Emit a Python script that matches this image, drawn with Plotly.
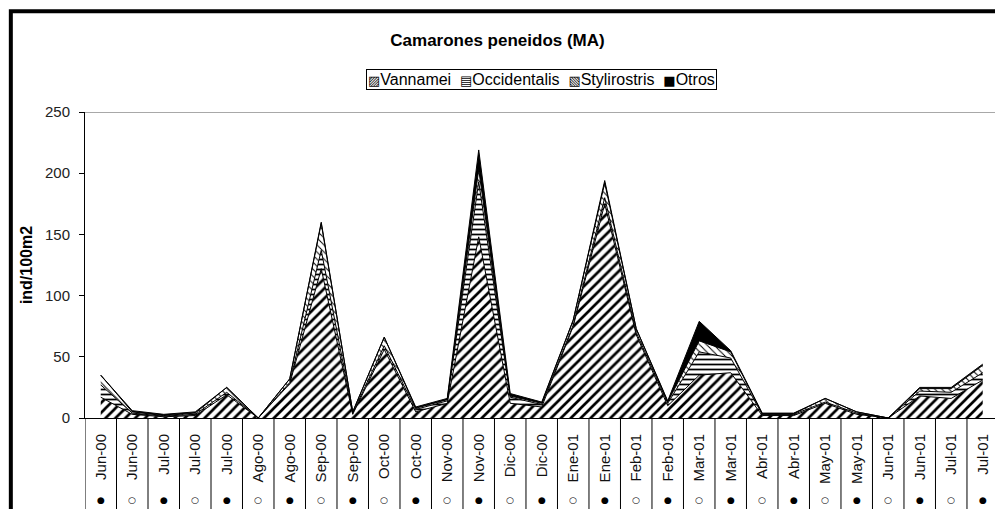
import plotly.graph_objects as go

labels = ["Jun-00", "Jun-00", "Jul-00", "Jul-00", "Jul-00", "Ago-00", "Ago-00", "Sep-00", "Sep-00",
          "Oct-00", "Oct-00", "Nov-00", "Nov-00", "Dic-00", "Dic-00", "Ene-01", "Ene-01", "Feb-01",
          "Feb-01", "Mar-01", "Mar-01", "Abr-01", "Abr-01", "May-01", "May-01", "Jun-01", "Jun-01",
          "Jul-01", "Jul-01"]
fase = ["●", "○"] * 14 + ["●"]

vannamei = [17, 3, 1, 2, 19, 0, 28, 122, 3, 56, 5, 12, 148, 12, 9, 75, 175, 68, 10, 35, 37, 2, 2, 12, 3, 0, 18, 16, 31]
occidentalis = [10, 1, 0.5, 1, 2, 0, 1, 15, 1, 3, 2, 2, 45, 5, 2, 1, 5, 2, 2, 19, 12, 1, 1, 1, 1, 0, 4, 5, 6]
stylirostris = [8, 1, 0.5, 1, 4, 0, 3, 22, 1, 7, 1, 1, 10, 1, 1, 4, 12, 3, 1, 9, 5, 0.5, 0.5, 3, 1, 0, 2, 3, 6]
otros = [0, 1, 1, 1, 0, 0, 0, 1, 0, 0, 1, 1, 16, 2, 1, 0, 2, 0, 1, 16, 1, 0.5, 0.5, 0, 0, 0, 1, 1, 1]

series_names = ["Vannamei", "Occidentalis", "Stylirostris", "Otros"]
legend_icons = ["▨", "▤", "▧", "■"]

x = list(range(len(labels)))
FONT = "Liberation Sans, Arial, sans-serif"

fig = go.Figure()
patterns = [
    dict(shape="/", size=7, solidity=0.38),
    dict(shape="-", size=5, solidity=0.35),
    dict(shape="\\", size=5, solidity=0.2),
]
for name, vals, pat in zip(series_names[:3], [vannamei, occidentalis, stylirostris], patterns):
    fig.add_trace(go.Scatter(
        x=x, y=vals, name=name, mode="lines", stackgroup="one",
        line=dict(color="black", width=1),
        fillcolor="white",
        fillpattern=dict(fgcolor="black", bgcolor="white", fillmode="replace", **pat),
    ))
fig.add_trace(go.Scatter(
    x=x, y=otros, name=series_names[3], mode="lines", stackgroup="one",
    line=dict(color="black", width=1), fillcolor="black",
))

shapes = []
# category separators forming the label table
for i in range(len(labels) + 1):
    shapes.append(dict(type="line", xref="x", yref="paper", x0=i - 0.5, x1=i - 0.5,
                       y0=0, y1=-0.45, line=dict(color="black", width=1)))
# plot-area top border
shapes.append(dict(type="line", xref="paper", yref="y", x0=0, x1=1, y0=250, y1=250,
                   line=dict(color="#a8a8a8", width=2)))
# outer chart frame
shapes.append(dict(type="rect", xref="paper", yref="paper", x0=-0.0815, x1=1.1,
                   y0=-0.5, y1=1.3295, line=dict(color="black", width=4)))

annotations = []
for i, f in enumerate(fase):
    annotations.append(dict(x=i, y=-0.267, xref="x", yref="paper", text=f, showarrow=False,
                            font=dict(size=9, color="black", family="DejaVu Sans"),
                            xanchor="center", yanchor="middle"))

# legend box (Excel-style compact legend)
legend_text = "&nbsp;&nbsp;".join(
    f"<span style='font-family:DejaVu Sans;font-size:13px'>{ic}</span>{nm}"
    for ic, nm in zip(legend_icons, series_names))
annotations.append(dict(text=legend_text, x=(541 - 85) / 910, y=(418 - 80) / 306,
                        xref="paper", yref="paper",
                        showarrow=False, xanchor="center", yanchor="middle",
                        bordercolor="black", borderwidth=1, borderpad=1, bgcolor="white",
                        font=dict(size=16, family=FONT, color="black")))

fig.update_layout(
    width=995, height=509,
    margin=dict(l=85, r=0, t=112, b=91),
    paper_bgcolor="white", plot_bgcolor="white",
    font=dict(family=FONT, color="black", size=12),
    title=dict(text="<b>Camarones peneidos (MA)</b>", x=0.5, xref="container", xanchor="center",
               y=1 - 40 / 509, yref="container", yanchor="middle",
               font=dict(size=17, family=FONT, color="black")),
    showlegend=False,
    shapes=shapes,
    annotations=annotations,
    hovermode=False,
)
fig.update_xaxes(range=[-0.5, 28.39], tickmode="array", tickvals=x, ticktext=labels,
                 tickangle=-90, showgrid=False, zeroline=False, showline=True,
                 linecolor="black", linewidth=1, ticks="outside", ticklen=9,
                 tickcolor="rgba(0,0,0,0)", tickfont=dict(size=15, family=FONT, color="#111"))
fig.update_yaxes(range=[0, 250], tickvals=[0, 50, 100, 150, 200, 250], showgrid=False,
                 zeroline=False, showline=True, linecolor="black", linewidth=1,
                 ticks="outside", ticklen=5, tickcolor="black", ticklabelstandoff=6,
                 tickfont=dict(size=15, family=FONT, color="#222"),
                 title=dict(text="<b>ind/100m2</b>", font=dict(size=16, family=FONT), standoff=8))

fig.write_html("out.html", config={"displayModeBar": False},
               post_script="document.body.style.margin='0';document.body.style.overflow='hidden';")
